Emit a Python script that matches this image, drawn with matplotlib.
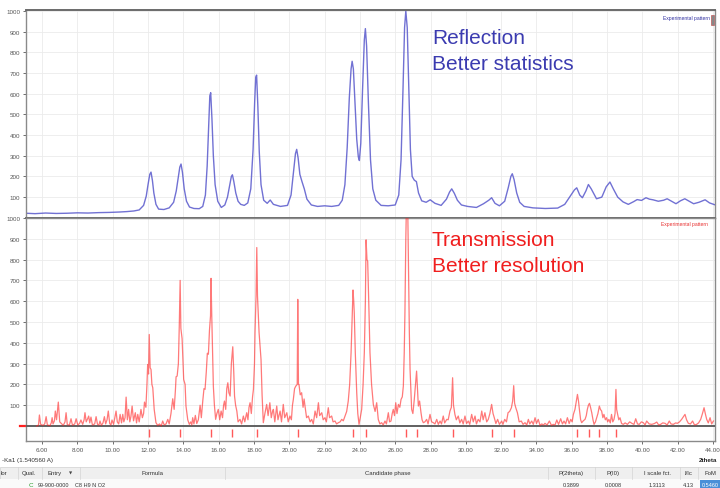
import numpy as np
import matplotlib.pyplot as plt
from matplotlib.patches import Rectangle

W, H = 720, 489


def fx(x):
    return x / W


def fy(y):
    return 1 - y / H


# reflection pattern (2theta, counts)
reflection = np.array([
    [5.10, 22], [5.60, 20], [6.20, 23], [6.80, 21], [7.40, 22], [8.00, 24],
    [8.60, 23], [9.20, 25], [9.80, 26], [10.40, 28], [10.80, 30], [11.20, 33],
    [11.50, 38], [11.75, 60], [11.90, 105], [12.00, 160], [12.10, 210], [12.17, 221],
    [12.25, 180], [12.33, 120], [12.45, 65], [12.60, 42], [12.90, 40], [13.20, 48],
    [13.45, 75], [13.60, 130], [13.72, 200], [13.80, 245], [13.87, 260], [13.95, 220],
    [14.05, 140], [14.18, 80], [14.35, 52], [14.60, 45], [14.90, 44], [15.10, 55],
    [15.25, 110], [15.35, 250], [15.43, 430], [15.50, 590], [15.55, 605], [15.62, 480],
    [15.70, 300], [15.80, 160], [15.95, 80], [16.15, 50], [16.35, 62], [16.50, 100],
    [16.63, 160], [16.72, 200], [16.78, 208], [16.86, 175], [16.97, 120], [17.10, 80],
    [17.25, 65], [17.45, 60], [17.65, 72], [17.82, 140], [17.95, 330], [18.04, 560],
    [18.10, 680], [18.15, 690], [18.22, 540], [18.30, 320], [18.40, 160], [18.55, 85],
    [18.75, 70], [18.92, 86], [19.10, 65], [19.50, 55], [19.90, 60], [20.10, 110],
    [20.25, 230], [20.35, 310], [20.42, 331], [20.50, 290], [20.60, 210], [20.72, 175],
    [20.85, 140], [21.00, 90], [21.25, 62], [21.60, 55], [22.00, 58], [22.40, 55],
    [22.80, 60], [23.00, 85], [23.15, 160], [23.28, 340], [23.40, 580], [23.50, 720],
    [23.56, 757], [23.63, 720], [23.72, 560], [23.82, 380], [23.91, 295], [23.97, 277],
    [24.05, 360], [24.15, 620], [24.25, 860], [24.31, 915], [24.38, 830], [24.48, 560],
    [24.60, 280], [24.73, 140], [24.90, 85], [25.20, 60], [25.60, 58], [26.00, 62],
    [26.20, 110], [26.33, 280], [26.44, 620], [26.53, 920], [26.60, 1000], [26.68, 920],
    [26.77, 620], [26.86, 330], [26.96, 200], [27.08, 182], [27.20, 175], [27.32, 120],
    [27.50, 82], [27.75, 75], [27.98, 87], [28.25, 70], [28.60, 60], [28.90, 90],
    [29.08, 125], [29.20, 140], [29.35, 118], [29.52, 85], [29.75, 62], [30.10, 55],
    [30.60, 50], [31.00, 68], [31.30, 85], [31.46, 97], [31.65, 70], [31.90, 58],
    [32.20, 80], [32.40, 145], [32.55, 200], [32.63, 213], [32.73, 185], [32.88, 120],
    [33.05, 75], [33.30, 55], [33.80, 48], [34.50, 45], [35.20, 47], [35.60, 65],
    [35.95, 110], [36.15, 135], [36.28, 145], [36.45, 110], [36.60, 97], [36.80, 130],
    [36.94, 161], [37.10, 140], [37.40, 92], [37.70, 100], [37.95, 150], [38.16, 173],
    [38.35, 140], [38.60, 100], [38.90, 77], [39.20, 65], [39.50, 78], [39.70, 88],
    [39.95, 84], [40.20, 97], [40.40, 90], [40.60, 87], [40.90, 80], [41.20, 85],
    [41.40, 92], [41.65, 80], [41.90, 68], [42.15, 82], [42.40, 92], [42.65, 80],
    [42.90, 68], [43.20, 75], [43.55, 87], [43.80, 72], [44.10, 63],
])

# transmission pattern (2theta, counts)
transmission = np.array([
    [5.70, 0], [5.80, 5], [5.85, 53], [5.92, 8], [6.05, 3], [6.15, 10], [6.23, 45],
    [6.30, 5], [6.45, 2], [6.52, 15], [6.57, 40], [6.62, 10], [6.70, 25], [6.75, 72],
    [6.82, 30], [6.92, 115], [7.00, 20], [7.08, 13], [7.20, 3], [7.30, 20], [7.36, 64],
    [7.43, 6], [7.55, 5], [7.64, 35], [7.72, 4], [7.85, 10], [7.93, 35], [8.02, 5],
    [8.12, 12], [8.20, 29], [8.30, 8], [8.38, 30], [8.43, 64], [8.50, 20], [8.58, 35],
    [8.64, 48], [8.70, 15], [8.77, 43], [8.85, 5], [8.98, 10], [9.06, 45], [9.14, 8],
    [9.22, 5], [9.28, 24], [9.36, 3], [9.45, 15], [9.53, 45], [9.60, 10], [9.68, 30],
    [9.75, 72], [9.83, 12], [9.90, 5], [9.96, 29], [10.05, 8], [10.12, 40], [10.19, 72],
    [10.26, 20], [10.34, 10], [10.42, 56], [10.50, 15], [10.57, 56], [10.63, 20],
    [10.70, 40], [10.76, 139], [10.83, 30], [10.90, 80], [10.97, 20], [11.03, 45],
    [11.10, 96], [11.18, 25], [11.28, 64], [11.35, 15], [11.42, 56], [11.50, 20],
    [11.60, 80], [11.68, 40], [11.75, 60], [11.80, 115], [11.88, 90], [11.94, 200],
    [11.98, 296], [12.03, 250], [12.07, 440], [12.12, 280], [12.17, 272], [12.22, 200],
    [12.27, 184], [12.35, 80], [12.45, 16], [12.55, 3], [12.65, 10], [12.75, 0],
    [12.83, 24], [12.92, 5], [13.02, 10], [13.12, 32], [13.20, 10], [13.30, 60],
    [13.40, 131], [13.48, 80], [13.55, 170], [13.59, 237], [13.65, 240], [13.72, 300],
    [13.77, 480], [13.82, 700], [13.86, 470], [13.93, 420], [14.02, 224], [14.10, 200],
    [14.15, 96], [14.25, 30], [14.34, 8], [14.42, 20], [14.48, 5], [14.53, 40],
    [14.60, 10], [14.68, 51], [14.76, 12], [14.85, 30], [14.95, 100], [15.02, 40],
    [15.10, 120], [15.17, 180], [15.23, 176], [15.30, 260], [15.36, 350], [15.42, 345],
    [15.48, 460], [15.54, 530], [15.57, 710], [15.61, 530], [15.66, 350], [15.70, 192],
    [15.76, 100], [15.83, 32], [15.90, 60], [15.98, 80], [16.06, 30], [16.14, 72],
    [16.22, 40], [16.28, 100], [16.33, 120], [16.40, 80], [16.46, 180], [16.52, 208],
    [16.58, 160], [16.65, 144], [16.72, 300], [16.80, 381], [16.86, 250], [16.90, 144],
    [16.96, 100], [17.03, 72], [17.10, 20], [17.21, 32], [17.30, 10], [17.40, 48],
    [17.48, 20], [17.59, 64], [17.66, 30], [17.72, 90], [17.78, 112], [17.85, 60],
    [17.92, 140], [17.97, 176], [18.03, 300], [18.06, 449], [18.12, 630], [18.16, 858],
    [18.20, 625], [18.25, 520], [18.29, 449], [18.35, 380], [18.40, 320], [18.46, 150],
    [18.53, 16], [18.62, 60], [18.72, 104], [18.80, 50], [18.90, 112], [18.98, 40],
    [19.05, 70], [19.10, 80], [19.18, 20], [19.29, 96], [19.36, 30], [19.48, 72],
    [19.56, 20], [19.66, 104], [19.74, 40], [19.86, 64], [19.94, 20], [20.04, 48],
    [20.12, 30], [20.18, 100], [20.23, 128], [20.30, 180], [20.37, 192], [20.45, 200],
    [20.48, 609], [20.52, 200], [20.55, 200], [20.62, 150], [20.70, 160], [20.78, 90],
    [20.84, 130], [20.89, 96], [20.98, 40], [21.08, 48], [21.18, 20], [21.27, 32],
    [21.36, 10], [21.46, 72], [21.55, 40], [21.65, 112], [21.72, 50], [21.84, 64],
    [21.92, 30], [22.02, 40], [22.10, 20], [22.21, 88], [22.28, 40], [22.40, 48],
    [22.48, 20], [22.59, 24], [22.68, 10], [22.78, 16], [22.88, 20], [22.97, 32],
    [23.06, 25], [23.16, 48], [23.25, 70], [23.34, 120], [23.42, 200], [23.50, 353],
    [23.56, 520], [23.61, 654], [23.65, 600], [23.68, 545], [23.74, 350], [23.82, 160],
    [23.88, 60], [23.95, 8], [24.02, 40], [24.10, 80], [24.18, 200], [24.25, 353],
    [24.31, 600], [24.35, 895], [24.40, 800], [24.44, 793], [24.50, 600], [24.57, 353],
    [24.66, 200], [24.76, 104], [24.86, 70], [24.95, 112], [25.04, 32], [25.13, 10],
    [25.23, 16], [25.32, 5], [25.42, 24], [25.50, 10], [25.61, 64], [25.68, 20],
    [25.76, 24], [25.83, 60], [25.89, 80], [25.96, 50], [26.03, 112], [26.10, 60],
    [26.18, 104], [26.26, 90], [26.33, 128], [26.40, 140], [26.46, 192], [26.51, 350],
    [26.55, 545], [26.60, 900], [26.63, 1040], [26.68, 1040], [26.71, 1040], [26.76, 700],
    [26.80, 450], [26.84, 273], [26.93, 80], [27.00, 60], [27.08, 128], [27.15, 200],
    [27.21, 264], [27.26, 180], [27.31, 96], [27.38, 120], [27.46, 64], [27.52, 30],
    [27.59, 16], [27.68, 20], [27.78, 32], [27.86, 10], [27.97, 56], [28.06, 20],
    [28.16, 16], [28.25, 10], [28.35, 32], [28.44, 8], [28.54, 24], [28.62, 10],
    [28.72, 48], [28.80, 15], [28.92, 32], [29.00, 30], [29.10, 72], [29.18, 90],
    [29.25, 232], [29.30, 100], [29.38, 56], [29.46, 30], [29.57, 48], [29.66, 15],
    [29.76, 32], [29.85, 10], [29.95, 48], [30.04, 12], [30.14, 24], [30.22, 8],
    [30.33, 56], [30.42, 20], [30.52, 48], [30.60, 10], [30.70, 32], [30.80, 20],
    [30.90, 72], [30.98, 30], [31.08, 64], [31.18, 20], [31.27, 32], [31.36, 60],
    [31.46, 104], [31.54, 60], [31.61, 40], [31.70, 12], [31.80, 32], [31.90, 8],
    [32.03, 24], [32.10, 8], [32.20, 32], [32.30, 20], [32.39, 64], [32.48, 70],
    [32.58, 88], [32.65, 120], [32.71, 194], [32.76, 110], [32.82, 90], [32.92, 64],
    [33.02, 20], [33.14, 24], [33.24, 8], [33.35, 16], [33.45, 5], [33.54, 32],
    [33.62, 10], [33.73, 24], [33.82, 8], [33.92, 40], [34.00, 12], [34.10, 32],
    [34.20, 3], [34.30, 10], [34.40, 5], [34.48, 13], [34.60, 5], [34.73, 24],
    [34.85, 3], [34.95, 8], [35.05, 5], [35.15, 29], [35.25, 8], [35.37, 35],
    [35.47, 10], [35.56, 24], [35.65, 10], [35.75, 40], [35.85, 12], [35.94, 32],
    [36.02, 20], [36.09, 56], [36.18, 80], [36.24, 112], [36.32, 152], [36.38, 120],
    [36.43, 80], [36.50, 30], [36.56, 16], [36.65, 25], [36.75, 32], [36.82, 50],
    [36.88, 80], [36.94, 100], [37.00, 109], [37.06, 90], [37.13, 64], [37.20, 30],
    [37.26, 8], [37.34, 20], [37.41, 40], [37.48, 60], [37.56, 96], [37.62, 80],
    [37.69, 72], [37.76, 40], [37.82, 56], [37.90, 30], [37.97, 40], [38.03, 20],
    [38.10, 32], [38.18, 15], [38.25, 56], [38.32, 20], [38.39, 32], [38.45, 60],
    [38.50, 176], [38.54, 80], [38.58, 64], [38.66, 30], [38.73, 40], [38.82, 12],
    [38.92, 8], [39.02, 15], [39.15, 8], [39.28, 20], [39.40, 13], [39.52, 8],
    [39.62, 35], [39.72, 10], [39.82, 8], [39.94, 20], [40.05, 16], [40.15, 5],
    [40.24, 24], [40.38, 10], [40.53, 8], [40.68, 12], [40.81, 19], [40.92, 5],
    [41.03, 8], [41.15, 15], [41.28, 13], [41.40, 5], [41.52, 24], [41.62, 10],
    [41.75, 8], [41.88, 15], [41.98, 13], [42.10, 20], [42.22, 32], [42.32, 45],
    [42.41, 56], [42.50, 30], [42.60, 13], [42.72, 10], [42.84, 24], [42.95, 5],
    [43.07, 8], [43.18, 15], [43.30, 32], [43.40, 60], [43.49, 88], [43.56, 60],
    [43.64, 32], [43.73, 15], [43.83, 40], [43.92, 10], [44.02, 24],
])

# candidate phase reflections
phase_2theta = [12.07, 13.82, 15.57, 16.78, 18.16, 20.48, 23.61, 24.35, 26.63,
                27.21, 29.25, 31.46, 32.71, 36.32, 37.00, 37.56, 38.50]

x_ticks = np.arange(6, 46, 2)
y_ticks = np.arange(100, 1100, 100)

header_cols = ["lor", "Qual.", "Entry", "Formula", "Candidate phase", "P(2theta)",
               "P(I0)", "I scale fct.", "I/Ic", "FoM"]
header_x = [1, 22, 47, 152, 388, 571, 613, 657, 688, 710]
row_vals = ["99-900-0000", "C8 H9 N O2", "0.3899", "0.0008", "1.3113", "4.13"]
row_x = [38, 75, 571, 613, 657, 688]

plt.rcParams['font.family'] = ['Liberation Sans', 'DejaVu Sans']

fig = plt.figure(figsize=(7.2, 4.89), dpi=100)
ax1 = fig.add_axes([fx(26), fy(219), fx(715) - fx(26), fy(11) - fy(219)])
ax2 = fig.add_axes([fx(26), fy(442), fx(715) - fx(26), fy(219) - fy(442)])

xlim = (5.09, 44.11)
grid_c = '#ebebeb'
tick_c = '#555555'

for ax in (ax1, ax2):
    ax.set_xlim(*xlim)
    ax.set_xticks(x_ticks)
    ax.set_yticks(y_ticks)
    ax.set_yticklabels([str(v) for v in y_ticks])
    ax.grid(True, color=grid_c, lw=0.6)
    ax.set_axisbelow(True)
    ax.tick_params(labelsize=4.5, colors=tick_c, length=2.5, width=0.6, pad=1.5)
    for s in ax.spines.values():
        s.set_color('#8a8a8a')
        s.set_linewidth(1.0)

ax1.set_ylim(-1, 1005)
ax1.tick_params(axis='x', labelbottom=False, length=0)
ax1.spines['top'].set_color('#6a6a6a')
ax1.spines['top'].set_linewidth(1.4)
ax1.spines['bottom'].set_color('#6a6a6a')
ax1.spines['bottom'].set_linewidth(1.4)
ax1.plot(reflection[:, 0], reflection[:, 1], color='#5858cc', lw=1.0, alpha=0.85)
ax1.text(0.993, 0.975, "Experimental pattern", transform=ax1.transAxes,
         ha='right', va='top', fontsize=3.6, color='#2f2fa0')
ax1.add_patch(Rectangle((0.9935, 0.93), 0.0055, 0.045, transform=ax1.transAxes,
                        facecolor='#888888', edgecolor='#c04040', lw=0.4))
ax1.text(xlim[0] + (432 - 26) / 17.66, 1000 - (38 - 12) / 0.2067, "Reflection",
         fontsize=15, color='#3b3bb0', va='center', ha='left')
ax1.text(xlim[0] + (432 - 26) / 17.66, 1000 - (64 - 12) / 0.2067, "Better statistics",
         fontsize=15, color='#3b3bb0', va='center', ha='left')

ax2.set_ylim(-72, 1000)
ax2.set_xticklabels(["%.2f" % v for v in x_ticks])
ax2.axhline(0, color='#606060', lw=1.4, zorder=3)
ax2.plot(transmission[:, 0], transmission[:, 1], color='#ff2020', lw=0.9, alpha=0.6,
         zorder=4)
ax2.vlines(phase_2theta, -53, -15, color='#ff3030', lw=1.0, alpha=0.8)
ax2.plot([4.75, 5.05], [0, 0], color='#ff2020', lw=1.6, clip_on=False)
ax2.text(0.99, 0.985, "Experimental pattern", transform=ax2.transAxes,
         ha='right', va='top', fontsize=3.6, color='#e83030')
ax2.text(xlim[0] + (432 - 26) / 17.66, 1000 - (240 - 219) / 0.208, "Transmission",
         fontsize=15, color='#f01e1e', va='center', ha='left')
ax2.text(xlim[0] + (432 - 26) / 17.66, 1000 - (266 - 219) / 0.208, "Better resolution",
         fontsize=15, color='#f01e1e', va='center', ha='left')

# footer: wavelength, axis name and the phase table
fig.text(fx(2), fy(461), "-Ka1 (1.540560 A)", fontsize=4.5, color='#333333', va='center')
fig.text(fx(699), fy(461), "2theta", fontsize=4.5, color='#222222', va='center',
         fontweight='bold')
fig.add_artist(Rectangle((0, fy(480)), 1, fy(468) - fy(480), transform=fig.transFigure,
                         facecolor='#efefef', edgecolor='#d0d0d0', lw=0.5))
fig.add_artist(Rectangle((0, 0), 1, fy(480), transform=fig.transFigure,
                         facecolor='#fafafa', edgecolor='none'))
for sx in [18, 42, 80, 225, 548, 595, 632, 680, 698]:
    fig.add_artist(plt.Line2D([fx(sx), fx(sx)], [fy(480), fy(468)],
                              transform=fig.transFigure, color='#d4d4d4', lw=0.5))
for i, (lab, hx) in enumerate(zip(header_cols, header_x)):
    ha = 'left' if i < 3 else 'center'
    fig.text(fx(hx), fy(474), lab, fontsize=4.3, color='#333333', va='center', ha=ha)
fig.text(fx(69), fy(474), "\u25bc", fontsize=3, color='#444444', va='center',
         family=['DejaVu Sans'])
fig.text(fx(29), fy(485.5), "C", fontsize=4.5, color='#2a9a2a', va='center')
for i, (val, rx) in enumerate(zip(row_vals, row_x)):
    ha = 'left' if i < 2 else 'center'
    fig.text(fx(rx), fy(485.5), val, fontsize=4.0, color='#333333', va='center', ha=ha)
fig.add_artist(Rectangle((fx(700), 0), fx(720) - fx(700), fy(481), transform=fig.transFigure,
                         facecolor='#4a8fd8', edgecolor='none'))
fig.text(fx(710), fy(485.5), "0.5460", fontsize=4.0, color='white', va='center', ha='center')

fig.savefig("out.png", dpi=100)
